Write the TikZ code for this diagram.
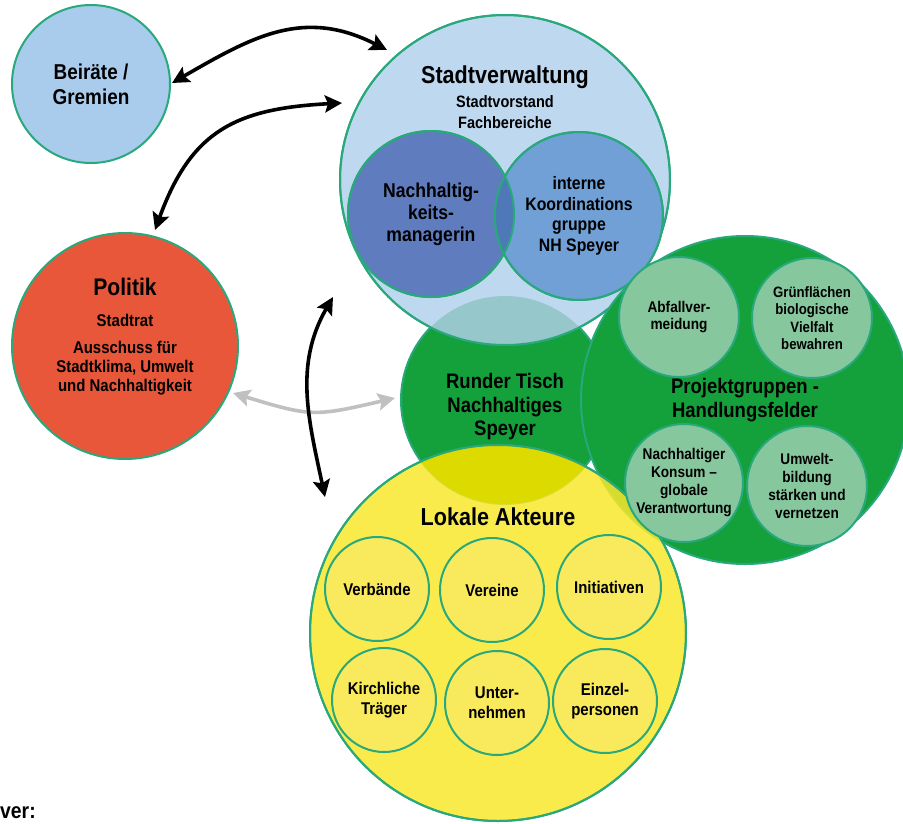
\documentclass[tikz,border=0pt]{standalone}
\usepackage{fontspec}
\setmainfont{Liberation Sans}[FakeStretch=0.88]
\usepackage{tikz}
\usetikzlibrary{positioning}
\usetikzlibrary{calc}
\usetikzlibrary{arrows.meta}

\definecolor{ringline}{RGB}{41,168,124}
\definecolor{beiratblue}{RGB}{170,204,236}
\definecolor{stadtblue}{RGB}{190,216,240}
\definecolor{managerblue}{RGB}{95,125,190}
\definecolor{koordblue}{RGB}{112,160,214}
\definecolor{lensblue}{RGB}{78,120,184}
\definecolor{politikred}{RGB}{232,87,57}
\definecolor{tischgreen}{RGB}{20,160,58}
\definecolor{lensteal}{RGB}{150,200,203}
\definecolor{pgroupgreen}{RGB}{134,199,158}
\definecolor{akteurgelb}{RGB}{247,231,44}
\definecolor{lensgelb}{RGB}{221,218,0}
\definecolor{kreisgelb}{RGB}{248,234,92}
\definecolor{arrowgrey}{RGB}{192,192,192}

\newcommand{\pxfont}[2]{\fontsize{#1}{#2}\selectfont}

\tikzstyle{ring} = [circle, draw=ringline, line width=2pt, inner sep=0pt, outer sep=0pt, align=center, font=\bfseries]
\tikzstyle{words} = [inner sep=0pt, align=center]
\tikzstyle{link} = [line width=3.6pt, {Stealth[length=17pt,width=17pt,inset=3pt]}-{Stealth[length=17pt,width=17pt,inset=3pt]}]

\begin{document}
\begin{tikzpicture}[x=1pt, y=-1pt]
    \useasboundingbox (0,0) rectangle (903,823);

    % --- Runder Tisch (lowest layer) ---
    \node[ring, fill=tischgreen, minimum size=208pt] at (505, 400) (tisch) {};

    % Stadtverwaltung, big light blue circle above Runder Tisch
    \node[ring, fill=stadtblue, minimum size=330pt] at (505, 180) (stadt) {};

    % overlap of Stadtverwaltung and Runder Tisch
    \begin{scope}
        \clip (stadt.center) circle (165pt);
        \fill[lensteal] (tisch.center) circle (104pt);
    \end{scope}
    \draw[ringline, line width=2pt] (stadt.center) circle (165pt);

    % texts on the top of Stadtverwaltung
    \node[words, font=\bfseries\pxfont{24.5}{27}] at ($(stadt.north)+(0,62)$) (stadt_title) {Stadtverwaltung};
    \node[words, font=\bfseries\pxfont{16.5}{21}] at ($(stadt.north)+(0,97)$) (stadt_sub) {Stadtvorstand\\Fachbereiche};

    % two inner circles of Stadtverwaltung
    \node[
        ring, fill=managerblue, minimum size=166pt, font=\bfseries\pxfont{20}{22}
    ] at (431, 214) (manager) {Nachhaltig-\\keits-\\managerin};
    \node[
        ring, fill=koordblue, minimum size=168pt, font=\bfseries\pxfont{18}{20.5}
    ] at (579, 216) (koord) {interne\\Koordinations\\gruppe\\NH Speyer};

    % overlap of the two inner circles
    \begin{scope}
        \clip (manager.center) circle (83pt);
        \fill[lensblue] (koord.center) circle (84pt);
    \end{scope}
    \draw[ringline, line width=2pt] (manager.center) circle (83pt) (koord.center) circle (84pt);

    % --- Projektgruppen on the right ---
    \node[
        ring, fill=tischgreen, minimum size=328pt, font=\bfseries\pxfont{21}{24}
    ] at (745, 400) (projekt) {Projektgruppen -\\Handlungsfelder};

    % Runder Tisch text
    \node[words, font=\bfseries\pxfont{21}{23.5}] at ($(tisch.center)+(0,7)$) (tisch_text) {Runder Tisch\\Nachhaltiges\\Speyer};

    % --- Lokale Akteure at the bottom ---
    \node[ring, fill=akteurgelb, fill opacity=0.85, minimum size=376pt] at (498, 633) (lokale) {};

    % overlap of Lokale Akteure and Runder Tisch
    \begin{scope}
        \clip (lokale.center) circle (188pt);
        \fill[lensgelb] (tisch.center) circle (104pt);
    \end{scope}
    \draw[ringline, line width=2pt] (lokale.center) circle (188pt);

    % Handlungsfelder inside Projektgruppen
    \node[ring, fill=pgroupgreen, minimum size=120pt, font=\bfseries\pxfont{15.5}{17.5}] at (679, 317) (abfall) {Abfallver-\\meidung};
    \node[ring, fill=pgroupgreen, minimum size=120pt, font=\bfseries\pxfont{15}{17.5}] at (812, 318) (gruen) {Grünflächen\\biologische\\Vielfalt\\bewahren};
    \node[ring, fill=pgroupgreen, minimum size=118pt, font=\bfseries\pxfont{15.5}{18}] at (684, 483) (konsum) {Nachhaltiger\\Konsum --\\globale\\Verantwortung};
    \node[ring, fill=pgroupgreen, minimum size=120pt, font=\bfseries\pxfont{15.5}{18}] at (807, 486) (umwelt) {Umwelt-\\bildung\\stärken und\\vernetzen};

    % title of Lokale Akteure
    \node[words, font=\bfseries\pxfont{24.5}{27}] at ($(lokale.north)+(0,72)$) (lokale_title) {Lokale Akteure};

    % actors inside Lokale Akteure
    \node[ring, fill=kreisgelb, minimum size=104pt, font=\bfseries\pxfont{17}{20}] at (377, 589) (verbaende) {Verbände};
    \node[ring, fill=kreisgelb, minimum size=104pt, font=\bfseries\pxfont{17}{20}] at (492, 590) (vereine) {Vereine};
    \node[ring, fill=kreisgelb, minimum size=104pt, font=\bfseries\pxfont{17}{20}] at (609, 587) (initiativen) {Initiativen};
    \node[ring, fill=kreisgelb, minimum size=104pt, font=\bfseries\pxfont{17}{20}] at (384, 700) (kirche) {Kirchliche\\Träger};
    \node[ring, fill=kreisgelb, minimum size=104pt, font=\bfseries\pxfont{17}{20}] at (497, 703) (unternehmen) {Unter-\\nehmen};
    \node[ring, fill=kreisgelb, minimum size=104pt, font=\bfseries\pxfont{17}{20}] at (605, 701) (einzel) {Einzel-\\personen};

    % --- Beiräte / Gremien, top left ---
    \node[
        ring, fill=beiratblue, minimum size=158pt, font=\bfseries\pxfont{21.5}{25}
    ] at (91, 84) (beirat) {Beiräte /\\Gremien};

    % --- Politik, left ---
    \node[ring, fill=politikred, minimum size=226pt] at (125, 346) (politik) {};
    \node[words, font=\bfseries\pxfont{24}{27}] at ($(politik.north)+(0,54)$) (politik_title) {Politik};
    \node[words, font=\bfseries\pxfont{17}{19}] at ($(politik.north)+(0,87)$) (politik_rat) {Stadtrat};
    \node[words, font=\bfseries\pxfont{17}{19}] at ($(politik.north)+(0,135)$) (politik_aus) {Ausschuss für\\Stadtklima, Umwelt\\und Nachhaltigkeit};

    % arrow tips next to the circles
    \coordinate (beirat_tip) at ($(beirat.center)+(81,-1)$);
    \coordinate (stadt_tip_a) at ($(stadt.center)+(-118,-130)$);
    \coordinate (stadt_tip_b) at ($(stadt.center)+(-163,-77)$);
    \coordinate (stadt_tip_c) at ($(stadt.center)+(-172,117)$);
    \coordinate (politik_tip_a) at ($(politik.center)+(30,-116)$);
    \coordinate (politik_tip_b) at ($(politik.center)+(108,47)$);
    \coordinate (tisch_tip) at ($(tisch.center)+(-110,-2)$);
    \coordinate (lokale_tip) at ($(lokale.center)+(-173,-136)$);

    % grey arrow between Politik and Runder Tisch
    \draw[link, draw=arrowgrey] (politik_tip_b) to[out=-17, in=193, looseness=1.3] (tisch_tip);

    % black arrows
    \draw[link] (beirat_tip) to[out=30, in=153, looseness=1.1] (stadt_tip_a);
    \draw[link] (stadt_tip_b) to[out=183, in=70, looseness=1.2] (politik_tip_a);
    \draw[link] (stadt_tip_c) to[out=240, in=102] (lokale_tip);

    % legend text at the bottom
    \node[words, anchor=base west, font=\bfseries\pxfont{22}{25}] at (0, 818) (legend) {ver:};

\end{tikzpicture}
\end{document}
